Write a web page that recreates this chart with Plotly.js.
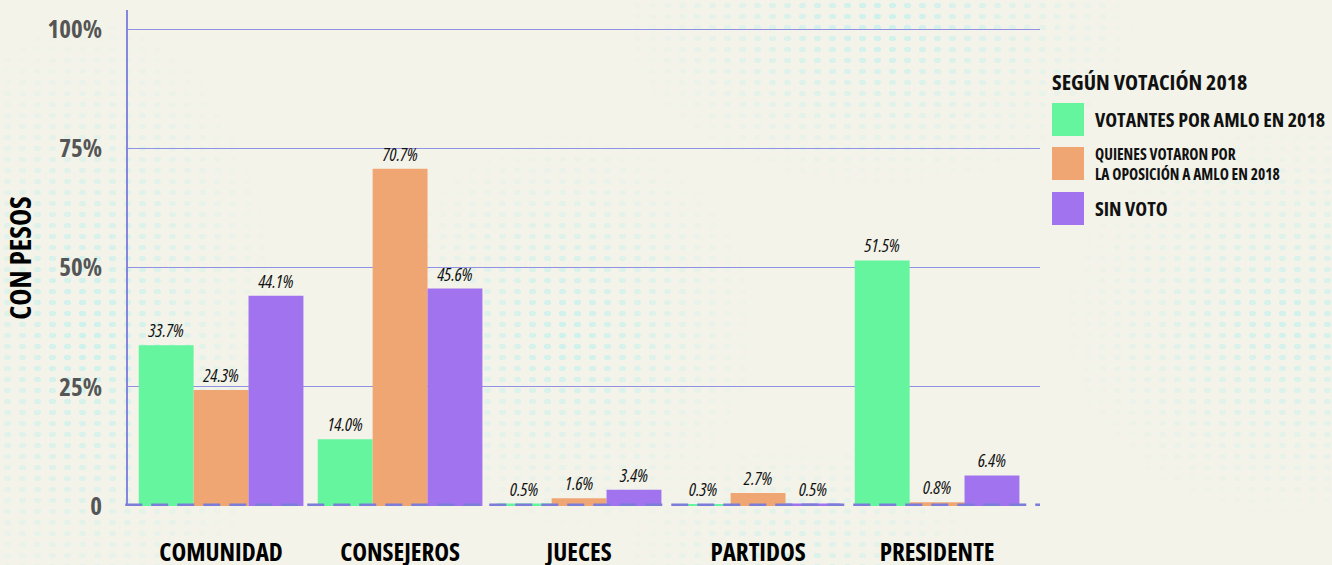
<!DOCTYPE html>
<html>
<head>
<meta charset="utf-8">
<script src="https://cdn.plot.ly/plotly-3.0.1.min.js"></script>
<style>
  html, body { margin:0; padding:0; background:#f3f3e9; width:1332px; height:565px; overflow:hidden; }
  #dots { position:absolute; left:0; top:0; width:1332px; height:565px;
    background-image: radial-gradient(ellipse 4px 3px at center, #cdf1ec 90%, transparent 100%);
    background-size: 15px 11px;
    -webkit-mask-image: radial-gradient(ellipse 190px 320px at 90px 330px, rgba(0,0,0,1), rgba(0,0,0,0)),
      radial-gradient(ellipse 260px 170px at 880px 20px, rgba(0,0,0,1), rgba(0,0,0,0)),
      radial-gradient(ellipse 190px 200px at 570px 330px, rgba(0,0,0,1), rgba(0,0,0,0)),
      radial-gradient(ellipse 230px 200px at 1290px 320px, rgba(0,0,0,0.9), rgba(0,0,0,0)),
      radial-gradient(ellipse 180px 120px at 800px 560px, rgba(0,0,0,0.7), rgba(0,0,0,0));
    mask-image: radial-gradient(ellipse 190px 320px at 90px 330px, rgba(0,0,0,1), rgba(0,0,0,0)),
      radial-gradient(ellipse 260px 170px at 880px 20px, rgba(0,0,0,1), rgba(0,0,0,0)),
      radial-gradient(ellipse 190px 200px at 570px 330px, rgba(0,0,0,1), rgba(0,0,0,0)),
      radial-gradient(ellipse 230px 200px at 1290px 320px, rgba(0,0,0,0.9), rgba(0,0,0,0)),
      radial-gradient(ellipse 180px 120px at 800px 560px, rgba(0,0,0,0.7), rgba(0,0,0,0));
  }
  #chart { position:absolute; left:0; top:0; width:1332px; height:565px; }
  #chart text { font-stretch: 75% !important; }
</style>
</head>
<body>
<div id="dots"></div>
<div id="chart"></div>
<script>
const categories = ["COMUNIDAD", "CONSEJEROS", "JUECES", "PARTIDOS", "PRESIDENTE"];
const seriesNames = ["VOTANTES POR AMLO EN 2018", "QUIENES VOTARON POR<br>LA OPOSICIÓN A AMLO EN 2018", "SIN VOTO"];
const amlo = [33.7, 14.0, 0.5, 0.3, 51.5];
const oposicion = [24.3, 70.7, 1.6, 2.7, 0.8];
const sinVoto = [44.1, 45.6, 3.4, 0.5, 6.4];
const yTickVals = [0, 25, 50, 75, 100];
const yTickText = ["0", "25%", "50%", "75%", "100%"];
const legendTitle = "SEGÚN VOTACIÓN 2018";
const yTitle = "CON PESOS";

const colors = ["#64f59e", "#f0a673", "#a173ee"];
const FONT = "'Open Sans', sans-serif";

function mk(vals, i) {
  return {
    type: "bar",
    x: categories,
    y: vals,
    name: seriesNames[i],
    marker: { color: colors[i], line: { width: 0 } },
    text: vals.map(v => v.toFixed(1) + "%"),
    textposition: "outside",
    cliponaxis: false,
    constraintext: "none",
    textfont: { family: FONT, size: 18, color: "#111", style: "italic", weight: 400 },
    hoverinfo: "x+y+name",
    showlegend: false
  };
}
const data = [mk(amlo, 0), mk(oposicion, 1), mk(sinVoto, 2)];

const shapes = [
  { type: "line", xref: "paper", yref: "y", x0: -0.003, x1: 1, y0: 0, y1: 0,
    line: { color: "#7b7dd8", width: 5, dash: "17px,9px" }, layer: "above" }
];
const px = x => (x - 128) / 912;
const py = y => (506 - y) / 496;
const annotations = [
  { xref: "paper", yref: "paper", x: px(1050), y: py(81), xanchor: "left", yanchor: "middle", align: "left",
    text: "<b>" + legendTitle + "</b>", showarrow: false, font: { family: FONT, size: 22, color: "#111" } }
];
const legendRows = [
  { top: 103, bot: 136, size: 20 },
  { top: 147, bot: 180, size: 15.5 },
  { top: 192, bot: 225, size: 20 }
];
legendRows.forEach((r, i) => {
  shapes.push({ type: "rect", xref: "paper", yref: "paper", x0: px(1052), x1: px(1084), y0: py(r.bot), y1: py(r.top),
    fillcolor: colors[i], line: { width: 0 } });
  annotations.push({ xref: "paper", yref: "paper", x: px(1093), y: py((r.top + r.bot) / 2), xanchor: "left", yanchor: "middle",
    align: "left", text: "<b>" + seriesNames[i] + "</b>", showarrow: false,
    font: { family: FONT, size: r.size, color: "#111" } });
});

const layout = {
  width: 1332, height: 565,
  margin: { l: 128, r: 292, t: 10, b: 59 },
  paper_bgcolor: "rgba(0,0,0,0)",
  plot_bgcolor: "rgba(0,0,0,0)",
  barmode: "group",
  bargap: 0.08,
  bargroupgap: 0,
  showlegend: false,
  xaxis: {
    range: [-0.52, 4.575],
    showgrid: false, zeroline: false, showline: false,
    ticks: "outside", ticklen: 24, tickcolor: "rgba(0,0,0,0)",
    tickfont: { family: FONT, size: 25, color: "#000", weight: "bold" }
  },
  yaxis: {
    range: [0, 104],
    tickvals: yTickVals, ticktext: yTickText,
    showgrid: true, gridcolor: "#8f91e3", gridwidth: 1,
    zeroline: false, showline: true, linecolor: "#8587dd", linewidth: 2,
    ticks: "outside", ticklen: 19, tickcolor: "rgba(0,0,0,0)",
    tickfont: { family: FONT, size: 25, color: "#555", weight: "bold" },
    title: { text: yTitle, standoff: 16, font: { family: FONT, size: 29, color: "#000", weight: "bold" } }
  },
  shapes: shapes,
  annotations: annotations,
  font: { family: FONT }
};

Plotly.newPlot("chart", data, layout, { displayModeBar: false });
</script>
</body>
</html>
